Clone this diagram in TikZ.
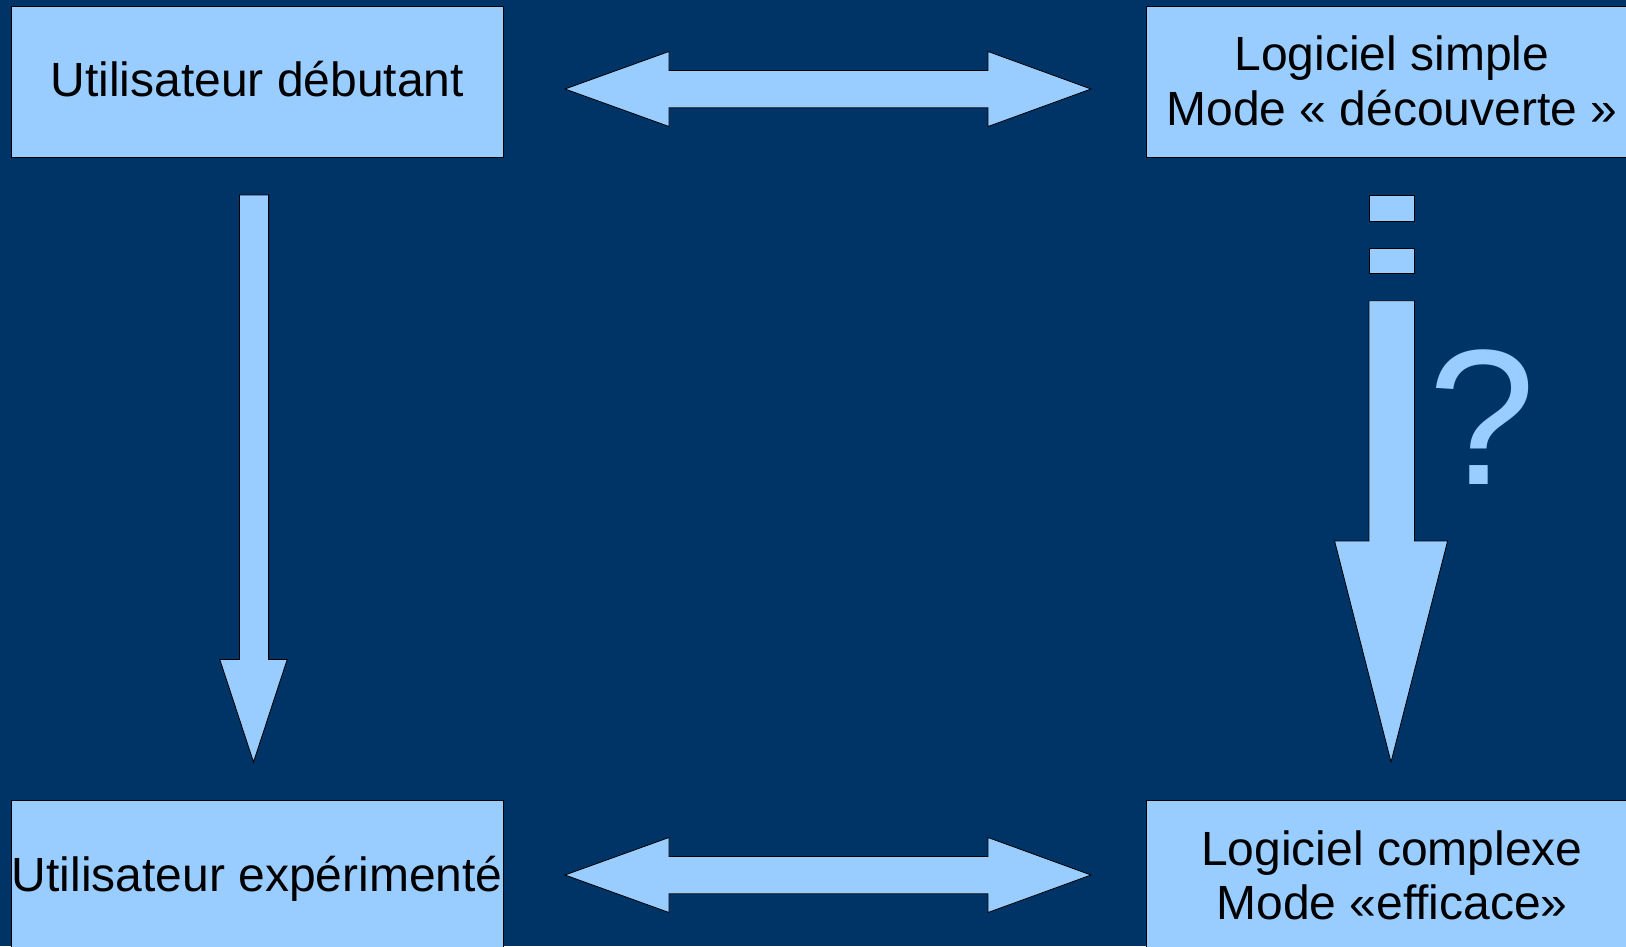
\documentclass[tikz,border=0pt]{standalone}
\usepackage{fontspec}
\setmainfont{Liberation Sans}
\definecolor{bg}{HTML}{003366}
\definecolor{lb}{HTML}{99CCFF}
\tikzset{
  box/.style={draw=black, line width=1pt, fill=lb, minimum width=491.6pt, minimum height=151.4pt,
    inner sep=0pt},
  boxtext/.style={anchor=base, inner sep=0pt, font=\fontsize{48}{54}\selectfont},
  blockarrow/.style={draw=black, line width=0.8pt, fill=lb, line join=miter}
}
\begin{document}
\begin{tikzpicture}[x=1pt,y=-1pt]
\fill[bg] (0,0) rectangle (1626,946);
\useasboundingbox (0,0) rectangle (1626,946);
\clip (0,0) rectangle (1626,946);

\node[box] (ud) at (257.2,81.9) {};
\node[box] (ls) at (1392,81.9) {};
\node[box] (ue) at (257.2,876.2) {};
\node[box] (lc) at (1392,876.2) {};

\node[boxtext] (udt) at (257.2,96) {Utilisateur débutant};
\node[boxtext] (lst1) at (1392,70.7) {Logiciel simple};
\node[boxtext] (lst2) at (1392,125) {Mode « découverte »};
\node[boxtext] (uet) at (257.2,891.7) {Utilisateur expérimenté};
\node[boxtext] (lct1) at (1392,865) {Logiciel complexe};
\node[boxtext] (lct2) at (1392,919) {Mode «efficace»};

% top double arrow
\draw[blockarrow] (565,89) -- (669,51.5) -- (669,70.5) -- (988,70.5) -- (988,51.5) -- (1091,89)
  -- (988,126.5) -- (988,107.8) -- (669,107.8) -- (669,126.5) -- cycle;
% bottom double arrow
\draw[blockarrow] (565,875) -- (669,837.5) -- (669,856.5) -- (988,856.5) -- (988,837.5) -- (1091,875)
  -- (988,912.5) -- (988,893.8) -- (669,893.8) -- (669,912.5) -- cycle;

% left down arrow
\draw[blockarrow] (239.5,195) -- (268.6,195) -- (268.6,659.5) -- (287.2,659.5) -- (253.5,762)
  -- (219.8,659.5) -- (239.5,659.5) -- cycle;

% right dashed down arrow
\draw[blockarrow] (1369,195) rectangle (1414.5,221);
\draw[blockarrow] (1369,248) rectangle (1414.5,273);
\draw[blockarrow] (1369,300.7) -- (1414.5,300.7) -- (1414.5,541) -- (1447.6,541) -- (1391,762)
  -- (1334.6,541) -- (1369,541) -- cycle;

\node[text=lb, font=\fontsize{193}{193}\selectfont, anchor=base, inner sep=0pt] (q) at (1482.5,484.5) {?};
\end{tikzpicture}
\end{document}
